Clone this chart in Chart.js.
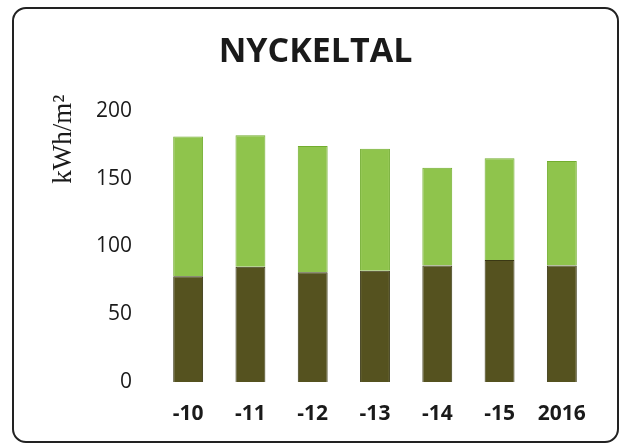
<!DOCTYPE html>
<html>
<head>
<meta charset="utf-8">
<script src="https://cdn.jsdelivr.net/npm/chart.js@4"></script>
<style>
  html, body { margin: 0; padding: 0; background: #fff; }
  #frame {
    position: absolute; left: 12px; top: 7px; width: 603px; height: 432px;
    border: 2px solid #222; border-radius: 14px;
  }
  #wrap { position: absolute; left: 0; top: 0; width: 621px; height: 445px; }
</style>
</head>
<body>
<div id="frame"></div>
<div id="wrap"><canvas id="chart" width="621" height="445"></canvas></div>
<script>
// Data (kWh/m2)
const years = ['-10', '-11', '-12', '-13', '-14', '-15', '2016'];
const lowerPart = [78, 85, 81, 82, 86, 90, 86];
const upperPart = [103, 97, 93, 90, 72, 75, 77];
const yTicks = [0, 50, 100, 150, 200];
const unitText = 'kWh/m²';

// unit label sits beside the top of the y axis, reaching above the plot
const unitLabel = {
    id: 'unitLabel',
    afterDraw(chart) {
        const c = chart.ctx;
        const top = chart.chartArea.top;
        c.save();
        c.translate(64, top + 73);
        c.rotate(-Math.PI / 2);
        c.font = '27px "Liberation Serif"';
        c.fillStyle = '#1a1a1a';
        c.textAlign = 'left';
        c.textBaseline = 'middle';
        c.fillText(unitText, 0, 0);
        c.restore();
    }
};

const ctx = document.getElementById('chart').getContext('2d');
const chart = new Chart(ctx, {
    type: 'bar',
    data: {
        labels: years,
        datasets: [{
            label: 'Del 1',
            data: lowerPart,
            backgroundColor: '#55521f',
            borderColor: '#3a3814',
            borderWidth: 1
        }, {
            label: 'Del 2',
            data: upperPart,
            backgroundColor: '#8fc44c',
            borderColor: '#72ad2e',
            borderWidth: 1
        }]
    },
    options: {
        responsive: false,
        animation: false,
        categoryPercentage: 1,
        barPercentage: 0.48,
        layout: { padding: { left: 38, right: 28, top: 30, bottom: 19 } },
        plugins: {
            legend: { display: false },
            tooltip: { enabled: false },
            title: {
                display: true,
                text: 'NYCKELTAL',
                color: '#1a1a1a',
                font: { family: 'Open Sans', size: 34, weight: 'bold', lineHeight: 1.2 },
                padding: { top: 2, bottom: 38 }
            }
        },
        scales: {
            x: {
                stacked: true,
                grid: { display: false, drawTicks: false },
                border: { display: false },
                afterFit: function(axis) { axis.height = 44; },
                ticks: {
                    color: '#1a1a1a',
                    padding: 19,
                    font: { family: 'Open Sans', size: 21, weight: 'bold' }
                }
            },
            y: {
                stacked: true,
                min: 0,
                max: 200,
                afterBuildTicks: function(axis) {
                    axis.ticks = yTicks.map(v => ({ value: v }));
                },
                afterFit: function(axis) { axis.width = 119; },
                grid: { display: false, drawTicks: false },
                border: { display: false },
                ticks: {
                    color: '#1a1a1a',
                    padding: 25,
                    font: { family: 'Open Sans', size: 21 }
                }
            }
        }
    },
    plugins: [unitLabel]
});
</script>
</body>
</html>
